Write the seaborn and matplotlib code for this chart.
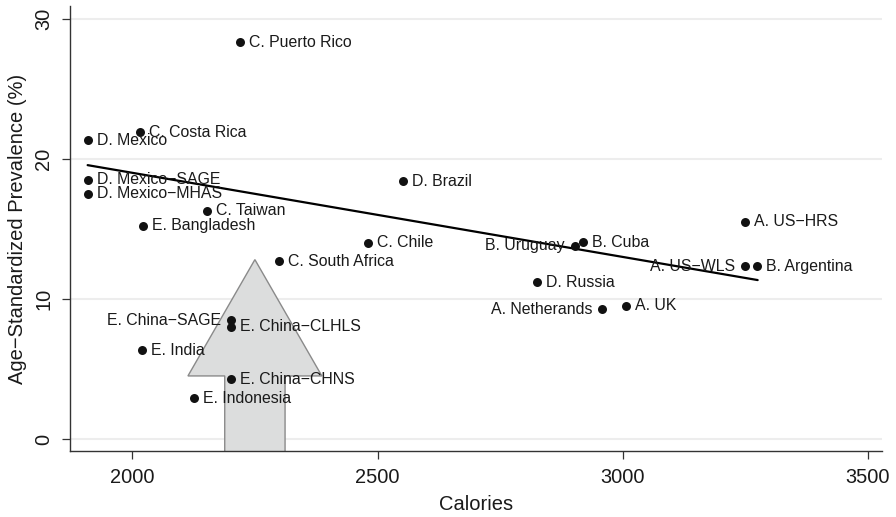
import matplotlib
matplotlib.use("Agg")
import matplotlib.pyplot as plt
from matplotlib.patches import FancyArrow
import pandas as pd
import seaborn as sns

# Study populations, daily calorie supply and age-standardized prevalence
studies = [
    "C. Puerto Rico", "C. Costa Rica", "D. Mexico", "D. Mexico−SAGE",
    "D. Mexico−MHAS", "C. Taiwan", "E. Bangladesh", "C. Chile", "D. Brazil",
    "A. US−HRS", "B. Cuba", "B. Uruguay", "A. US−WLS", "B. Argentina",
    "D. Russia", "A. Netherands", "A. UK", "C. South Africa",
    "E. China−SAGE", "E. China−CLHLS", "E. India", "E. China−CHNS",
    "E. Indonesia",
]
calories = [
    2219, 2016, 1909, 1909,
    1909, 2153, 2021, 2480, 2552,
    3249, 2919, 2902, 3249, 3274,
    2826, 2958, 3006, 2299,
    2201, 2201, 2020, 2201,
    2126,
]
prevalence = [
    28.3, 21.9, 21.3, 18.5,
    17.5, 16.3, 15.2, 14.0, 18.4,
    15.5, 14.05, 13.8, 12.34, 12.34,
    11.2, 9.27, 9.5, 12.7,
    8.49, 8.0, 6.35, 4.28,
    2.92,
]

# Fitted trend line (end points)
fit_calories = [1909, 3275]
fit_prevalence = [19.54, 11.34]

x_ticks = [2000, 2500, 3000, 3500]
y_ticks = [0, 10, 20, 30]

# Labels written to the left of their marker
left_labels = {"B. Uruguay", "A. US−WLS", "A. Netherands", "E. China−SAGE"}

df = pd.DataFrame({"Study": studies, "Calories": calories,
                   "Prevalence": prevalence})
fit_df = pd.DataFrame({"Calories": fit_calories, "Prevalence": fit_prevalence})

sns.set_theme(style="white")
plt.rcParams["font.family"] = ["Liberation Sans", "DejaVu Sans"]

fig = plt.figure(figsize=(8.96, 5.17), dpi=100)
ax = fig.add_axes([0.0781, 0.127, 0.906, 0.861])

ax.set_xlim(1873, 3528)
ax.set_ylim(-0.88, 30.88)

# Light horizontal grid
ax.set_yticks(y_ticks)
ax.set_xticks(x_ticks)
ax.yaxis.grid(True, color="#ededed", linewidth=1.5)
ax.xaxis.grid(False)
ax.set_axisbelow(True)

# Large upward arrow
arrow_x, arrow_base, arrow_tip = 2250, -3.0, 12.8
arrow = FancyArrow(arrow_x, arrow_base, 0, arrow_tip - arrow_base,
                   width=123, head_width=273, head_length=8.3,
                   length_includes_head=True, facecolor="#dcdddd",
                   edgecolor="#8a8a8a", linewidth=1.0, zorder=2)
ax.add_patch(arrow)

sns.lineplot(data=fit_df, x="Calories", y="Prevalence", ax=ax,
             color="black", linewidth=1.6, zorder=3)
sns.scatterplot(data=df, x="Calories", y="Prevalence", ax=ax,
                color="#111111", s=42, linewidth=0, zorder=4)

for name, cx, py in zip(studies, calories, prevalence):
    if name in left_labels:
        ax.annotate(name, (cx, py), xytext=(-7, 0), textcoords="offset points",
                    ha="right", va="center", fontsize=11.4, color="#1a1a1a",
                    zorder=5)
    else:
        ax.annotate(name, (cx, py), xytext=(6.5, 0), textcoords="offset points",
                    ha="left", va="center", fontsize=11.4, color="#1a1a1a",
                    zorder=5)

for side in ("top", "right"):
    ax.spines[side].set_visible(False)
for side in ("left", "bottom"):
    ax.spines[side].set_color("#333333")
    ax.spines[side].set_linewidth(1.0)

ax.tick_params(axis="both", direction="out", length=5.5, width=0.9,
               color="#333333", labelsize=14.4, pad=6.5,
               labelcolor="#1a1a1a", left=True, bottom=True)
ax.set_yticklabels([str(v) for v in y_ticks], rotation=90, va="center")

ax.set_xlabel("Calories", fontsize=14.5, color="#1a1a1a", labelpad=6)
ax.set_ylabel("Age−Standardized Prevalence (%)", fontsize=14.5,
              color="#1a1a1a", labelpad=5)

fig.savefig("out.png", dpi=100, facecolor="white")
